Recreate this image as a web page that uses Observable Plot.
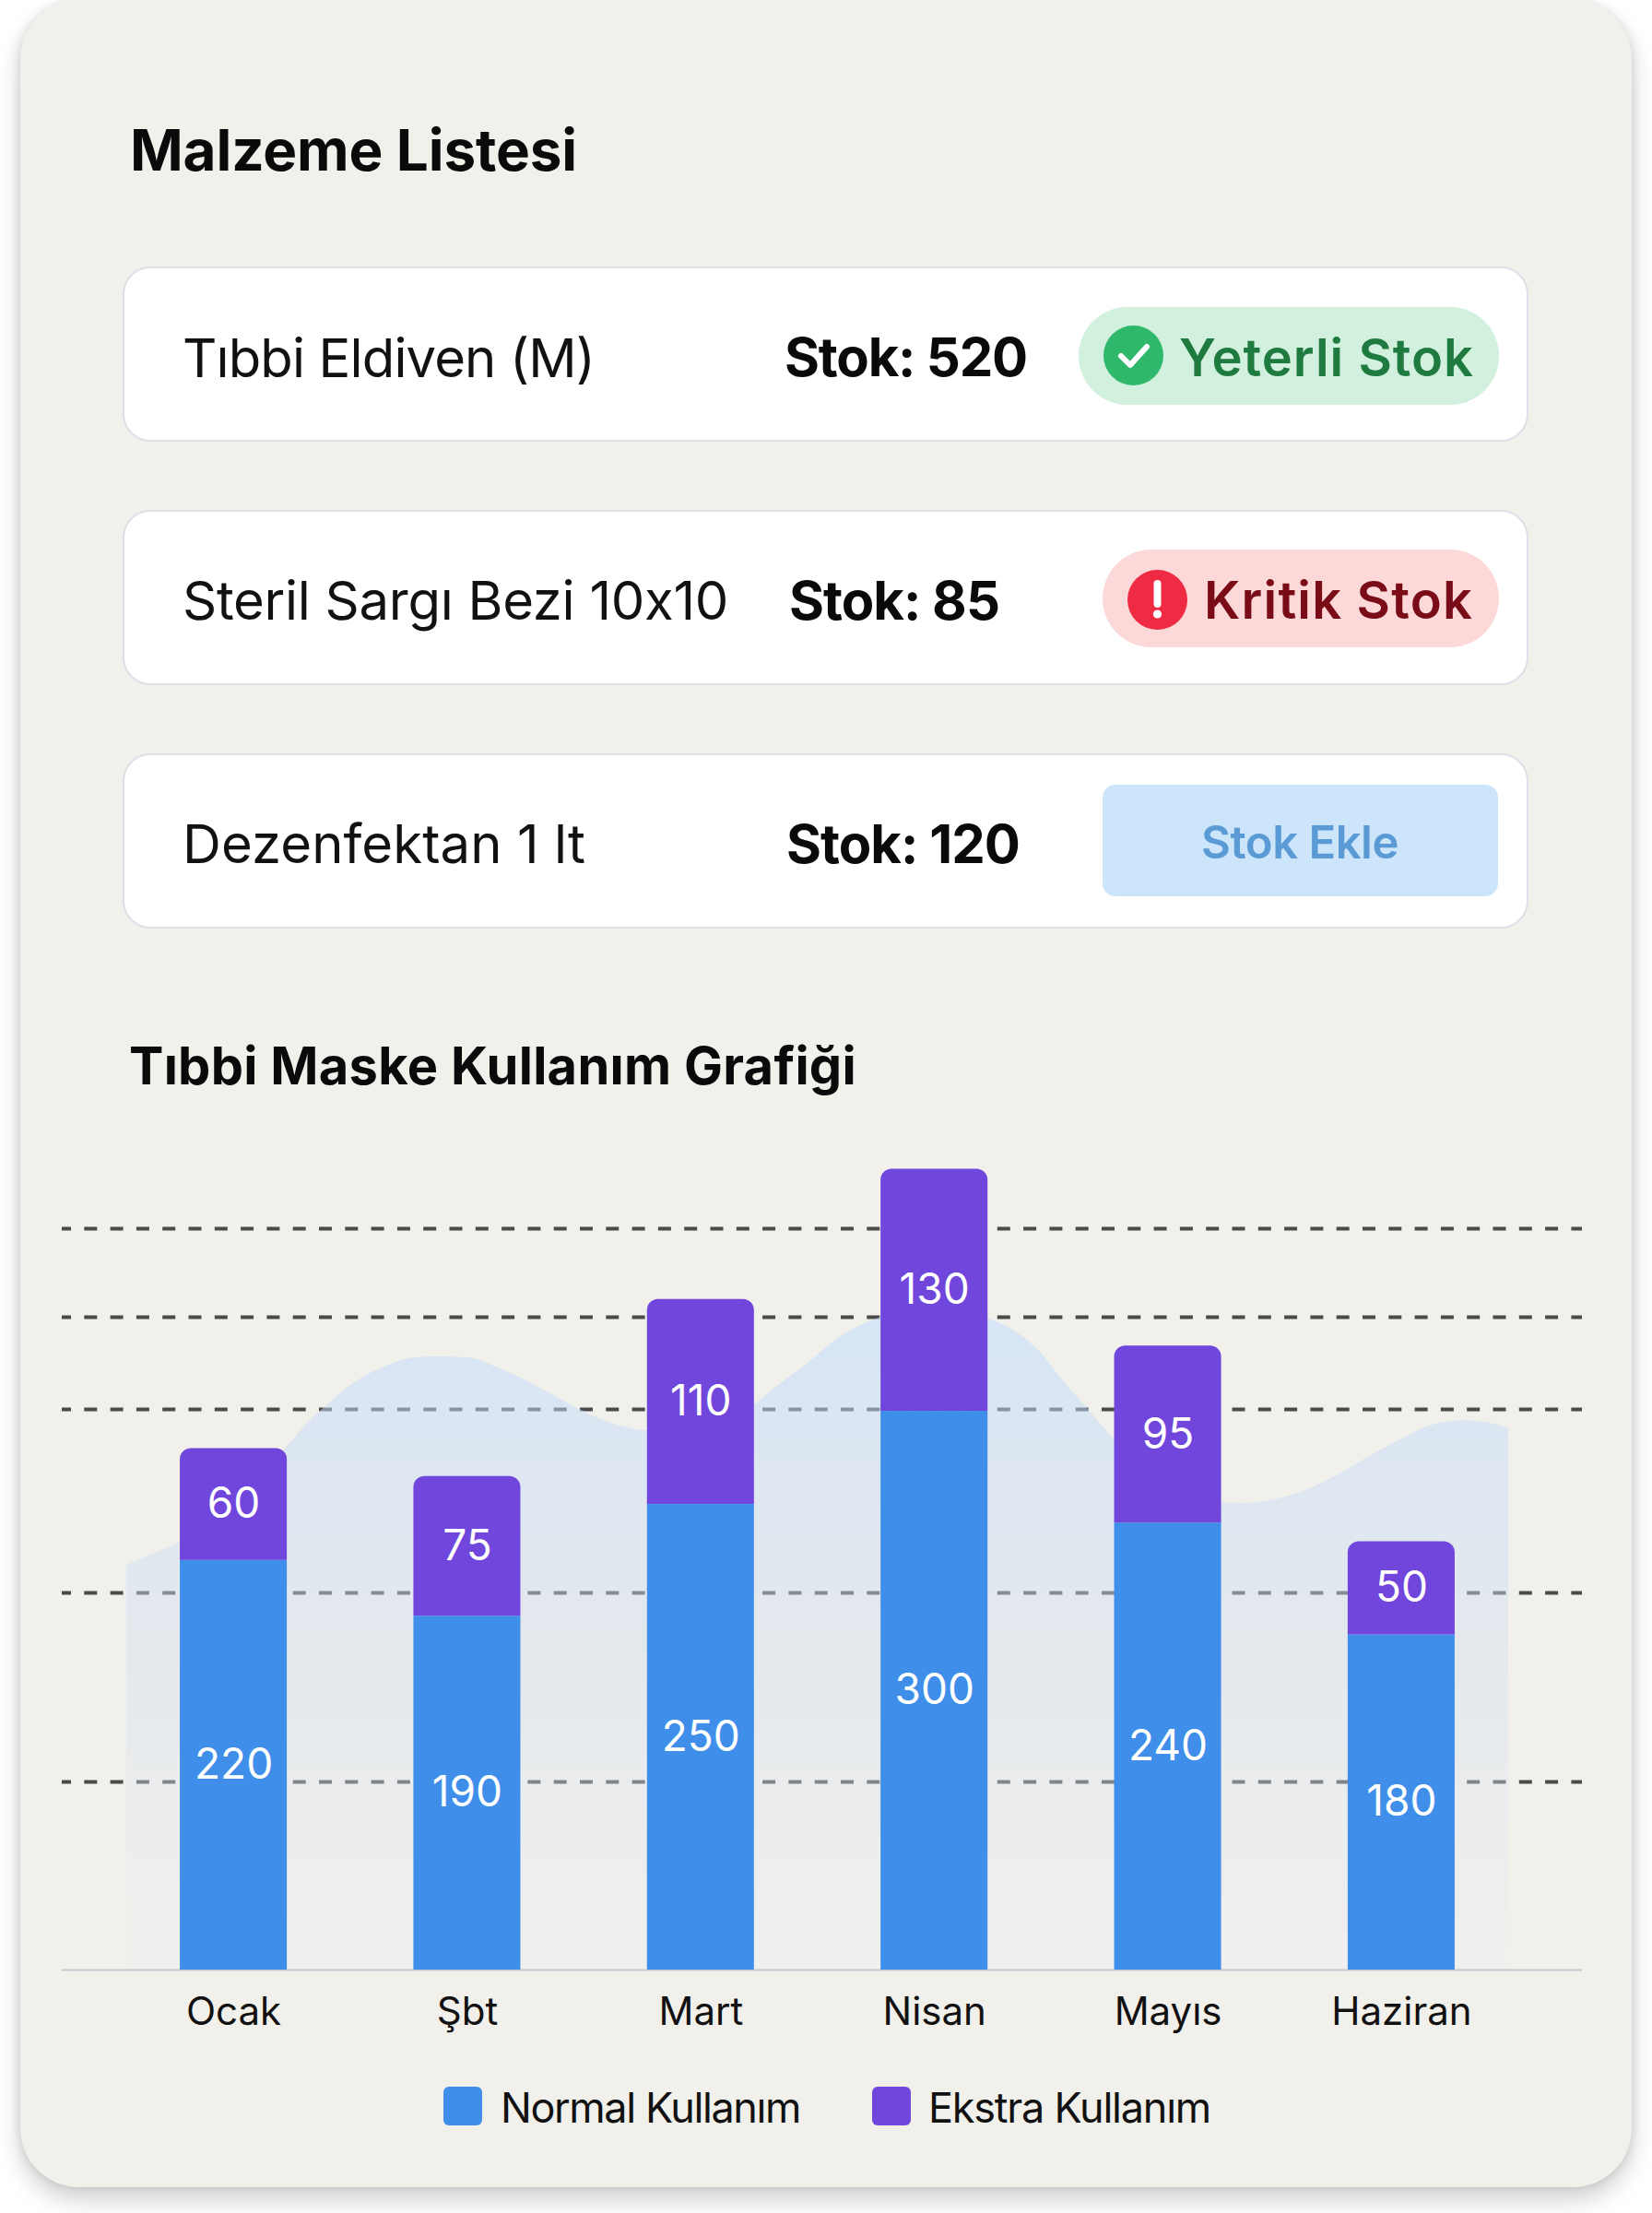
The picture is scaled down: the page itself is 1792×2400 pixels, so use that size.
<!DOCTYPE html>
<html lang="tr">
<head>
<meta charset="utf-8">
<script src="https://cdn.jsdelivr.net/npm/d3@7"></script>
<script src="https://cdn.jsdelivr.net/npm/@observablehq/plot@0.6"></script>
<style>
  html, body { margin: 0; padding: 0; background: #fff; }
  body { width: 1792px; height: 2400px; position: relative; overflow: hidden; font-family: Inter, sans-serif; color: #000; }
  #card { position: absolute; left: 22px; top: 0; width: 1748px; height: 2372px; background: #f2f0eb; border-radius: 64px;
          box-shadow: 0 14px 26px rgba(0,0,0,.18), -4px 0 8px rgba(0,0,0,.06), 4px 0 8px rgba(0,0,0,.06); }
  .t { position: absolute; white-space: nowrap; line-height: 1; transform: translateY(-50%); }
  .row { position: absolute; left: 133px; width: 1525px; box-sizing: border-box; height: 190px; background: #fff;
         border: 2px solid #dde0e8; border-radius: 30px; }
  .pill { position: absolute; }
  #chart { position: absolute; left: 0; top: 1240px; }
  #chart svg { display: block; overflow: visible; }
  .sw { position: absolute; top: 2263px; width: 42px; height: 42px; border-radius: 6px; }
</style>
</head>
<body>
<div id="card"></div>
<div id="ui"></div>
<div id="chart"></div>
<script>
// --- list content
const listTitle = "Malzeme Listesi";
const chartTitle = "Tıbbi Maske Kullanım Grafiği";
const itemNames = ["Tıbbi Eldiven (M)", "Steril Sargı Bezi 10x10", "Dezenfektan 1 lt"];
const itemStock = ["Stok: 520", "Stok: 85", "Stok: 120"];
const itemStatus = ["Yeterli Stok", "Kritik Stok", "Stok Ekle"];

// --- chart values
const months = ["Ocak", "Şbt", "Mart", "Nisan", "Mayıs", "Haziran"];
const normalUse = [220, 190, 250, 300, 240, 180];
const extraUse = [60, 75, 110, 130, 95, 50];
const gridValues = [101, 202.5, 301, 350.5, 398];
const seriesNames = ["Normal Kullanım", "Ekstra Kullanım"];
// background silhouette: position along the month axis, height in chart units
const bgPos = [-0.459,-0.368,-0.23,-0.013,0.231,0.315,0.394,0.512,0.646,0.777,0.883,1.002,1.132,1.262,1.436,1.566,1.673,1.767,2,2.229,2.328,2.462,2.593,2.683,2.762,2.995,3.232,3.343,3.449,3.552,3.659,3.769,4,4.231,4.33,4.436,4.579,4.736,4.87,5.001,5.131,5.265,5.368,5.459];
const bgVal = [217.3,222.3,229.7,253,281.2,293.6,302.5,314.9,323.8,328.7,329.2,328.7,323.3,315.8,304,296,291.6,289.6,292.6,303.5,313.4,326.2,339.6,346,350,356.4,349.5,343.1,332.2,316.3,301,285.1,262.9,251,250.5,252,256.9,266.3,276.2,285.1,292.6,295,294,290.6];

const BLUE = "#3f8fea", PURPLE = "#7046dc";
const ui = document.getElementById("ui");

function text(str, left, cy, width, size, weight, color) {
  const el = document.createElement("div");
  el.className = "t";
  el.textContent = str;
  el.style.cssText = `left:${left}px;top:${cy}px;font-size:${size}px;font-weight:${weight};color:${color}`;
  ui.appendChild(el);
  let ls = 0;
  for (let k = 0; k < 3; k++) {
    const w = el.getBoundingClientRect().width;
    ls += (width - w) / str.length;
    el.style.letterSpacing = ls.toFixed(3) + "px";
  }
  return el;
}
function box(left, top, w, h, r, bg) {
  const el = document.createElement("div");
  el.className = "pill";
  el.style.cssText = `left:${left}px;top:${top}px;width:${w}px;height:${h}px;border-radius:${r}px;background:${bg}`;
  ui.appendChild(el);
  return el;
}

text(listTitle, 141, 163, 485, 62, 700, "#0a0a0a");
text(chartTitle, 140, 1156, 789, 56, 700, "#0a0a0a");

[289, 553, 817].forEach(top => {
  const r = document.createElement("div");
  r.className = "row"; r.style.top = top + "px"; ui.appendChild(r);
});

text(itemNames[0], 198, 388, 447, 58, 400, "#111");
text(itemNames[1], 198, 651, 592, 58, 400, "#111");
text(itemNames[2], 198, 915, 437, 58, 400, "#111");
text(itemStock[0], 851, 387, 263, 58, 700, "#0a0a0a");
text(itemStock[1], 856, 651, 228, 58, 700, "#0a0a0a");
text(itemStock[2], 853, 915, 253, 58, 700, "#0a0a0a");

box(1170, 333, 456, 106, 53, "#d1f0dd");
box(1196, 596, 430, 106, 53, "#fdd8d9");
box(1196, 851, 429, 121, 14, "#cde5fa");

const check = box(1196.5, 353, 65, 65, 33, "#2fb86b");
check.innerHTML = '<svg width="65" height="65" viewBox="0 0 65 65"><path d="M19 33 L29 43 L47 23" fill="none" stroke="#fff" stroke-width="6" stroke-linecap="round" stroke-linejoin="round"/></svg>';
const warn = box(1222.5, 617.5, 65, 65, 33, "#ef2b44");
warn.innerHTML = '<svg width="65" height="65" viewBox="0 0 65 65"><path d="M32.5 15 V37" stroke="#fff" stroke-width="8" stroke-linecap="round"/><circle cx="32.5" cy="48" r="4.6" fill="#fff"/></svg>';

text(itemStatus[0], 1279, 388, 320, 56, 600, "#1f7a3f");
text(itemStatus[1], 1306, 651, 292, 56, 600, "#7a0c18");
text(itemStatus[2], 1303, 913, 214, 49, 600, "#5b9bd5");

// --- legend
const sw1 = document.createElement("div"); sw1.className = "sw"; sw1.style.cssText = `left:481px;background:${BLUE}`; ui.appendChild(sw1);
const sw2 = document.createElement("div"); sw2.className = "sw"; sw2.style.cssText = `left:946px;background:${PURPLE}`; ui.appendChild(sw2);
text(seriesNames[0], 543, 2285, 325, 45, 400, "#111");
text(seriesNames[1], 1007, 2285, 306, 45, 400, "#111");

// --- chart
const idx = months.map((_, i) => i);
const bg = bgPos.map((x, i) => ({x, y: bgVal[i]}));
const halfBar = 0.229;
const defs = () => {
  const d = d3.create("svg:defs");
  const g = d.append("linearGradient").attr("id", "bgGrad").attr("x1", 0).attr("x2", 0).attr("y1", 0).attr("y2", 1);
  [[0, "#bedbff", .54], [.55, "#d3dff0", .42], [1, "#eceef2", .3]].forEach(([o, c, a]) =>
    g.append("stop").attr("offset", o).attr("stop-color", c).attr("stop-opacity", a));
  return d.node();
};

const chart = Plot.plot({
  width: 1792,
  height: 960,
  marginLeft: 67,
  marginRight: 76,
  marginTop: 0,
  marginBottom: 64,
  style: {background: "transparent", fontFamily: "Inter, sans-serif", fontSize: "42px", color: "#111"},
  x: {domain: [-0.5, 5.5], range: [126.4, 1646.6]},
  y: {domain: [0, 443.6]},
  marks: [
    defs,
    Plot.ruleY(gridValues, {stroke: "#4a4a4a", strokeWidth: 4, strokeDasharray: "14,14.3", strokeDashoffset: 4}),
    Plot.areaY(bg, {x: "x", y: "y", curve: "monotone-x", fill: "url(#bgGrad)"}),
    Plot.ruleY([0], {stroke: "#c7c9cf", strokeWidth: 2}),
    Plot.rectY(idx, {x1: i => i - halfBar, x2: i => i + halfBar, y1: 0, y2: i => normalUse[i], fill: BLUE}),
    Plot.rectY(idx, {x1: i => i - halfBar, x2: i => i + halfBar, y1: i => normalUse[i], y2: i => normalUse[i] + extraUse[i], fill: PURPLE, ry2: 12, rx1y2: 12, rx2y2: 12}),
    Plot.text(idx, {x: i => i, y: i => normalUse[i] / 2, text: i => String(normalUse[i]), fill: "#fff", fontSize: 46, fontWeight: 400}),
    Plot.text(idx, {x: i => i, y: i => normalUse[i] + extraUse[i] / 2, text: i => String(extraUse[i]), fill: "#fff", fontSize: 46, fontWeight: 400}),
    Plot.axisX({ticks: idx, tickFormat: i => months[i], tickSize: 0, tickPadding: 30, fontSize: 42, label: null}),
    Plot.axisY({ticks: [], label: null})
  ]
});
document.getElementById("chart").appendChild(chart);
</script>
</body>
</html>
